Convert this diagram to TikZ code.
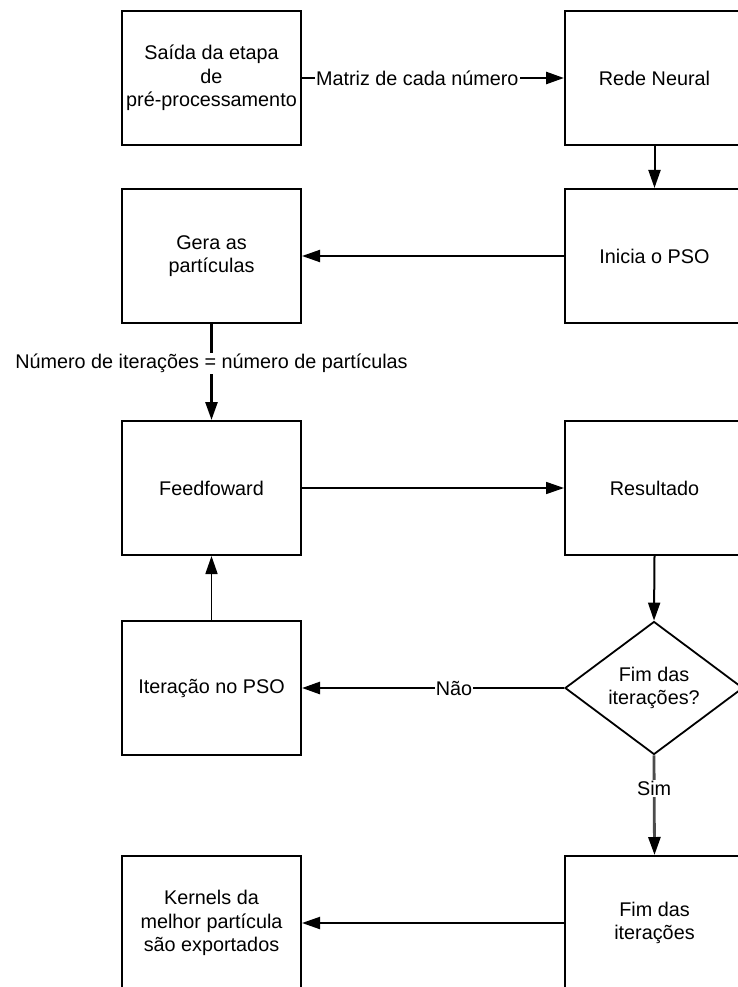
\documentclass[tikz,border=0pt]{standalone}
\usepackage{fontspec}
\setmainfont{Liberation Sans}
\usetikzlibrary{arrows.meta,shapes.geometric}

\tikzset{
  box/.style={draw, line width=2pt, minimum width=179pt, minimum height=134pt,
    inner sep=0pt, align=center, font=\fontsize{19.8}{23.5}\selectfont},
  decision/.style={diamond, draw, line width=1.8pt, minimum width=178pt,
    minimum height=133pt, aspect=1.34, inner sep=0pt, align=center,
    font=\fontsize{19.8}{23.5}\selectfont},
  link/.style={line width=2pt, -{Triangle[length=18pt,width=12pt]}},
  thinlink/.style={line width=1.7pt, -{Triangle[length=18pt,width=12pt]}},
  heavylink/.style={line width=2.6pt, -{Triangle[length=18pt,width=12pt]}},
  tag/.style={fill=white, inner sep=1pt, font=\fontsize{19.8}{23.5}\selectfont}
}

\begin{document}
\begin{tikzpicture}[x=1pt,y=-1pt]
  \clip (0,0) rectangle (738,987);
  \fill[white] (0,0) rectangle (738,987);

  % left column
  \node[box] (saida)  at (211.5,78)  {Saída da etapa\\de\\pré-processamento};
  \node[box] (gera)   at (211.5,256) {Gera as\\partículas};
  \node[box] (feed)   at (211.5,488) {Feedfoward};
  \node[box] (iter)   at (211.5,688) {Iteração no PSO};
  \node[box] (kern)   at (211.5,923) {Kernels da\\melhor partícula\\são exportados};

  % right column
  \node[box] (rede)   at (654.5,78)  {Rede Neural};
  \node[box] (inicia) at (654.5,256) {Inicia o PSO};
  \node[box] (result) at (654.5,488) {Resultado};
  \node[decision] (fim) at (654,688) {Fim das\\iterações?};
  \node[box] (fimit)  at (654.5,923) {Fim das\\iterações};

  % connectors
  \draw[heavylink] (saida.east) -- node[tag, pos=0.44] {Matriz de cada número} (rede.west);
  \draw[link] (rede.south) -- (inicia.north);
  \draw[link] (inicia.west) -- (gera.east);
  \draw[heavylink] (gera.south) -- node[tag, pos=0.41] {Número de iterações = número de partículas} (feed.north);
  \draw[thinlink] (feed.east) -- (result.west);
  \draw[link] (result.south) -- (fim.north);
  \draw[heavylink] (fim.west) -- node[tag, pos=0.42] {Não} (iter.east);
  \draw[thinlink] (iter.north) -- (feed.south);
  \draw[line width=2.8pt, black!70, -{Triangle[length=18pt,width=12pt,color=black]}]
    (fim.south) -- node[tag, text=black, pos=0.33] {Sim} (fimit.north);
  \draw[link] (fimit.west) -- (kern.east);
\end{tikzpicture}
\end{document}
